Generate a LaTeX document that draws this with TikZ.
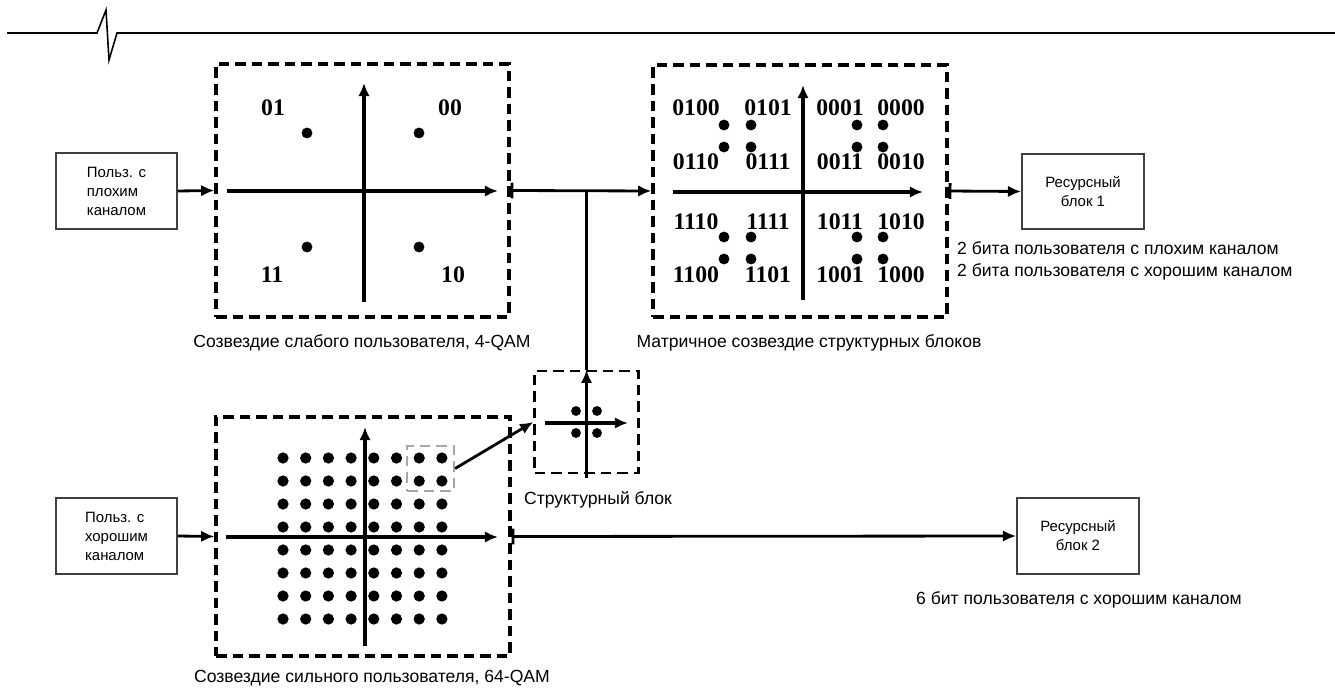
\documentclass[tikz,border=0pt]{standalone}
\usepackage{fontspec}
\setmainfont{Liberation Sans}
\newfontfamily\bitsfont{Liberation Serif}
\usetikzlibrary{arrows.meta}

\tikzset{
  usrbox/.style={draw=black!75, line width=1pt, minimum width=2.42cm, minimum height=1.52cm, align=left, font=\fontsize{8.5}{10.8}\selectfont},
  qambox/.style={draw, line width=1.9pt, dash pattern=on 6pt off 3.4pt},
  axis/.style={line width=1.8pt, ->},
  wire/.style={line width=1.6pt},
  bits/.style={font=\bitsfont\bfseries\fontsize{13.5}{16}\selectfont},
  captext/.style={font=\fontsize{10}{12.5}\selectfont}
}

\begin{document}
\begin{tikzpicture}[x=0.02cm, y=-0.02cm, >={Latex[length=7.5pt,width=6.5pt]}]
\useasboundingbox (0,0) rectangle (1335,689);
% header line
\draw[line width=0.9pt] (7,33) -- (97,33) -- (106,10) -- (109,60) -- (117,33) -- (1335,33);

% users
\node[usrbox] (bad) at (116.5,191) {Польз. с\\плохим\\каналом};
\node[usrbox] (good) at (116.5,536) {Польз. с\\хорошим\\каналом};

% constellations
\node[qambox, minimum width=5.86cm, minimum height=5.06cm] (weak) at (362.5,190.5) {};
\node[qambox, minimum width=5.88cm, minimum height=5.04cm] (matrix) at (800,191) {};
\node[qambox, minimum width=5.88cm, minimum height=4.78cm] (strong) at (363,536.5) {};
\node[qambox, line width=1.4pt, minimum width=2.08cm, minimum height=2.04cm] (sblock) at (586.5,422) {};
\node[qambox, draw=black!35, line width=1.3pt, minimum width=0.94cm, minimum height=0.9cm] (pick) at (430.5,468.5) {};

% resource blocks
\node[usrbox, align=center, minimum width=2.44cm, minimum height=1.5cm] (rb1) at (1083,191.5) {Ресурсный\\ блок 1};
\node[usrbox, align=center, minimum width=2.44cm] (rb2) at (1078,536) {Ресурсный\\ блок 2};

% axes
\draw[axis] (227,191) -- (498,191);
\draw[axis] (364,302) -- (364,83);
\draw[axis] (673,192) -- (923,192);
\draw[axis] (803,300) -- (803,85);
\draw[axis] (226,537) -- (498,537);
\draw[axis] (365,646) -- (365,427);
\draw[axis] (545,423) -- (628,423);
\draw[axis] ([yshift=-2pt]sblock.south) -- (sblock.north);

% points
\foreach \x in {307,419} \foreach \y in {133,247} \fill (\x,\y) circle (3.1pt);
\foreach \x in {724,751,857,883} \foreach \y in {125,147,237,259} \fill (\x,\y) circle (3.1pt);
\foreach \i in {0,...,7} \foreach \j in {0,...,7} \fill (283+22.7*\i,458+23*\j) circle (3.2pt);
\foreach \x in {576,597} \foreach \y in {411,433} \fill (\x,\y) circle (2.8pt);

% bit labels
\node[bits] (q01) at (273,108) {01};
\node[bits] (q00) at (450,108) {00};
\node[bits] (q11) at (272,275) {11};
\node[bits] (q10) at (453,275) {10};
\foreach \y/\a/\b/\c/\d in {108/0100/0101/0001/0000, 162/0110/0111/0011/0010, 222/1110/1111/1011/1010, 275/1100/1101/1001/1000} {
  \node[bits] (m\a) at (696,\y) {\a};
  \node[bits] (m\b) at (768,\y) {\b};
  \node[bits] (m\c) at (840,\y) {\c};
  \node[bits] (m\d) at (901,\y) {\d};
}

% connectors
\coordinate (junc) at (sblock.north |- weak.east);
\draw[wire, ->] (bad.east) -- (weak.west);
\draw[wire, {Bar[width=9pt]}->] (weak.east) -- (matrix.west);
\draw[wire] (sblock.north) -- (junc);
\draw[wire, {Bar[width=9pt]}->] (matrix.east) -- (rb1.west);
\draw[wire, ->] (good.east) -- (strong.west);
\draw[wire, {Bar[width=9pt]}->] (strong.east) -- (rb2.west);
\draw[wire, ->] (pick.east) -- (sblock.west);

% captions
\node[captext] (capweak) at (362,343) {Созвездие слабого пользователя, 4-QAM};
\node[captext] (capmatrix) at (809,343) {Матричное созвездие структурных блоков};
\node[captext] (capstrong) at (372,678) {Созвездие сильного пользователя, 64-QAM};
\node[captext] (capsblock) at (598,500) {Структурный блок};
\node[captext, anchor=west, align=left] (bits1) at (951,261) {2 бита пользователя с плохим каналом\\2 бита пользователя с хорошим каналом};
\node[captext] (bits2) at (1079,600) {6 бит пользователя с хорошим каналом};
\end{tikzpicture}
\end{document}
